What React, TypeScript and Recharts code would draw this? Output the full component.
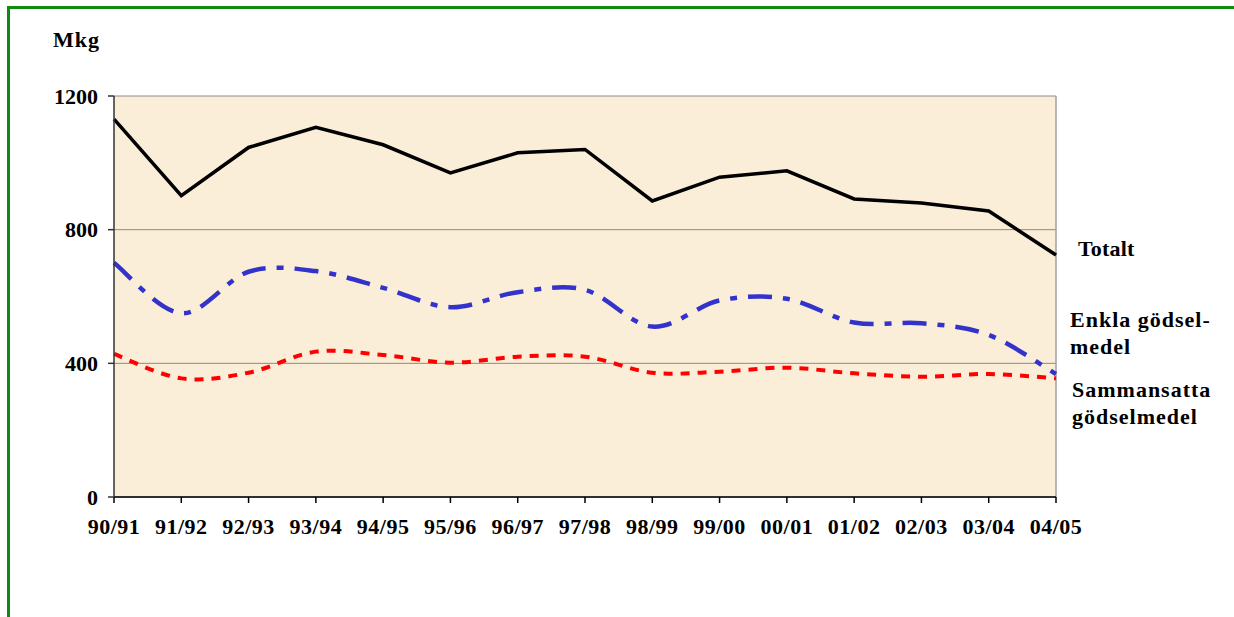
import { LineChart, Line, XAxis, YAxis, CartesianGrid, ReferenceLine } from "recharts";

// skördeår
const seasons = [
    "90/91", "91/92", "92/93", "93/94", "94/95", "95/96", "96/97", "97/98",
    "98/99", "99/00", "00/01", "01/02", "02/03", "03/04", "04/05",
];

// Mkg per år
const totalt = [1131, 902, 1046, 1106, 1054, 970, 1030, 1040, 886, 957, 976, 892, 880, 856, 724];
const enkla = [701, 550, 674, 676, 626, 568, 613, 620, 510, 588, 593, 522, 520, 485, 368];
const sammansatta = [428, 355, 372, 435, 425, 402, 420, 420, 372, 375, 387, 370, 360, 368, 355];

const yTicks = [0, 400, 800, 1200];

const data = seasons.map((s, i) => ({
    season: s,
    totalt: totalt[i],
    enkla: enkla[i],
    sammansatta: sammansatta[i],
}));

const serif = "Liberation Serif, Times New Roman, serif";

// Excel-liknande utjämnad linje (Catmull-Rom)
function smoothCurve(context: any) {
    let pts: number[][] = [];
    return {
        areaStart() {},
        areaEnd() {},
        lineStart() {
            pts = [];
        },
        point(x: number, y: number) {
            pts.push([+x, +y]);
        },
        lineEnd() {
            if (!pts.length) return;
            context.moveTo(pts[0][0], pts[0][1]);
            for (let i = 0; i < pts.length - 1; i++) {
                const p0 = pts[i - 1] || pts[i];
                const p1 = pts[i];
                const p2 = pts[i + 1];
                const p3 = pts[i + 2] || pts[i + 1];
                context.bezierCurveTo(
                    p1[0] + (p2[0] - p0[0]) / 6,
                    p1[1] + (p2[1] - p0[1]) / 6,
                    p2[0] - (p3[0] - p1[0]) / 6,
                    p2[1] - (p3[1] - p1[1]) / 6,
                    p2[0],
                    p2[1]
                );
            }
        },
    };
}

const labelStyle: React.CSSProperties = {
    position: "absolute",
    fontFamily: serif,
    fontWeight: "bold",
    fontSize: 22,
    lineHeight: "27px",
    letterSpacing: 1,
    color: "#000",
    whiteSpace: "nowrap",
};

export default function App() {
    return (
        <div style={{ position: "absolute", left: 0, top: 0, width: 1234, height: 617, overflow: "hidden", background: "#fff" }}>
            {/* grön ram, bara överkant och vänsterkant syns */}
            <div
                style={{
                    position: "absolute",
                    left: 7,
                    top: 6,
                    width: 1227,
                    height: 611,
                    boxSizing: "border-box",
                    borderTop: "3px solid #118a11",
                    borderLeft: "3px solid #118a11",
                }}
            />
            <LineChart
                width={1234}
                height={617}
                data={data}
                margin={{ top: 96, right: 178, bottom: 90, left: 54 }}
                style={{ position: "absolute", left: 0, top: 0 }}
            >
                <CartesianGrid vertical={false} stroke="#8a8a8a" fill="#fbeed8" fillOpacity={1} />
                <ReferenceLine x="04/05" stroke="#a0a0a0" strokeWidth={1.5} />
                <XAxis
                    dataKey="season"
                    stroke="#000"
                    strokeWidth={1.5}
                    tickSize={6}
                    tickMargin={15}
                    height={30}
                    interval={0}
                    tick={{ fill: "#000", fontSize: 22, fontWeight: "bold", fontFamily: serif, letterSpacing: 0.5 }}
                />
                <YAxis
                    type="number"
                    domain={[0, 1200]}
                    ticks={yTicks}
                    width={60}
                    stroke="#333"
                    strokeWidth={1.5}
                    tickSize={6}
                    tickMargin={10}
                    tick={{ fill: "#000", fontSize: 22, fontWeight: "bold", fontFamily: serif }}
                />
                <Line
                    dataKey="sammansatta"
                    type={smoothCurve as any}
                    stroke="#ff0000"
                    strokeWidth={4}
                    strokeDasharray="9 8"
                    dot={false}
                    activeDot={false}
                    isAnimationActive={false}
                />
                <Line
                    dataKey="enkla"
                    type={smoothCurve as any}
                    stroke="#3333cc"
                    strokeWidth={4.5}
                    strokeDasharray="24 11 7 11"
                    dot={false}
                    activeDot={false}
                    isAnimationActive={false}
                />
                <Line
                    dataKey="totalt"
                    type="linear"
                    stroke="#000"
                    strokeWidth={3.5}
                    dot={false}
                    activeDot={false}
                    isAnimationActive={false}
                />
            </LineChart>
            <div style={{ ...labelStyle, left: 53, top: 26 }}>Mkg</div>
            <div style={{ ...labelStyle, left: 1078, top: 235, letterSpacing: 0.2 }}>Totalt</div>
            <div style={{ ...labelStyle, left: 1070, top: 306 }}>
                Enkla gödsel-
                <br />
                medel
            </div>
            <div style={{ ...labelStyle, left: 1072, top: 376 }}>
                Sammansatta
                <br />
                gödselmedel
            </div>
        </div>
    );
}
